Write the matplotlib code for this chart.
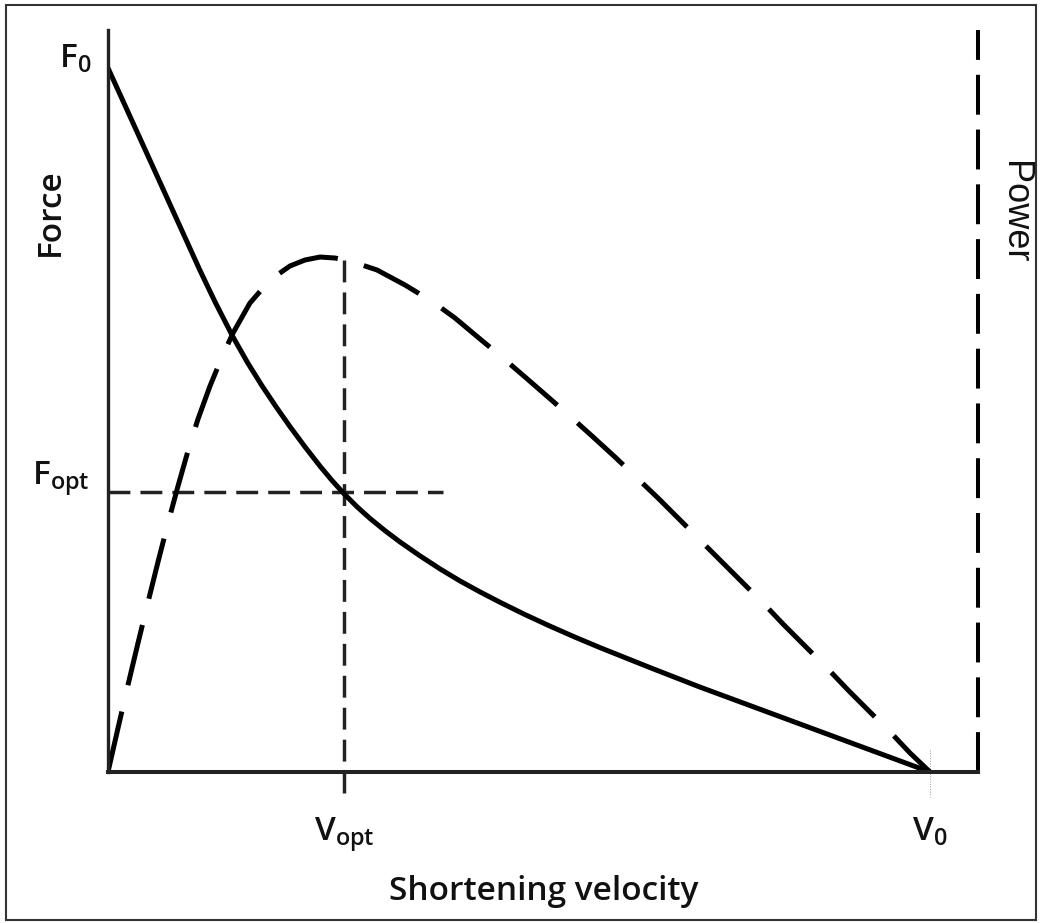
"""
Force-velocity and power-velocity curves of muscle
"""
import matplotlib

matplotlib.use("Agg")
import matplotlib.pyplot as plt
from matplotlib.patches import Rectangle

plt.rcParams["mathtext.default"] = "regular"

# Force-velocity curve (V0 = 1, F0 = 1)
force_v = [0.0, 0.0511, 0.1119, 0.1302, 0.1521, 0.1703, 0.1873, 0.2044,
           0.2214, 0.2397, 0.2579, 0.2725, 0.2871, 0.3029, 0.3187, 0.3370,
           0.3552, 0.3796, 0.4039, 0.4282, 0.4526, 0.4769, 0.5073, 0.5377,
           0.5681, 0.5985, 0.6594, 0.7202, 1.0]
force_f = [1.0, 0.8688, 0.7125, 0.6678, 0.6179, 0.5805, 0.5487, 0.5189,
           0.4906, 0.4618, 0.4345, 0.4141, 0.3953, 0.3768, 0.3602, 0.3428,
           0.3268, 0.3070, 0.2885, 0.2714, 0.2558, 0.2411, 0.2236, 0.2072,
           0.1916, 0.1767, 0.1483, 0.1206, 0.0]

# Power-velocity curve (same scale as force)
power_v = [0.0, 0.0122, 0.0243, 0.0365, 0.0487, 0.0608, 0.0730, 0.0852,
           0.0973, 0.1095, 0.1241, 0.1387, 0.1521, 0.1727, 0.1971, 0.2214,
           0.2397, 0.2579, 0.2762, 0.2981, 0.3273, 0.3613, 0.3954, 0.4221,
           0.4526, 0.4805, 0.5073, 0.5353, 0.5645, 0.5888, 0.6168, 0.6448,
           0.6691, 0.6959, 0.7226, 0.7445, 0.7713, 0.7993, 0.8212, 0.8479,
           0.8759, 0.9002, 0.9270, 0.9550, 0.9757, 1.0]
power_p = [0.0, 0.0625, 0.1236, 0.1832, 0.2415, 0.2983, 0.3537, 0.4063,
           0.4560, 0.5014, 0.5483, 0.5895, 0.6236, 0.6662, 0.6989, 0.7188,
           0.7273, 0.7315, 0.7301, 0.7244, 0.7131, 0.6918, 0.6676, 0.6449,
           0.6151, 0.5881, 0.5611, 0.5327, 0.5028, 0.4773, 0.4474, 0.4162,
           0.3892, 0.3580, 0.3267, 0.3011, 0.2699, 0.2372, 0.2102, 0.1790,
           0.1463, 0.1165, 0.0852, 0.0526, 0.0270, 0.0]

F0 = 1.0
V0 = 1.0
F_OPT = 0.398
V_OPT = 0.287
P_MAX = 0.727

X_MAX = 1.0584
Y_MAX = 1.054

LABEL_FONT = dict(family="Open Sans", weight="semibold", size=24, color="#111111")

fig = plt.figure(figsize=(10.42, 9.23), dpi=100)
ax = fig.add_axes([108 / 1042, 151 / 923, 870 / 1042, 742 / 923])
ax.set_xlim(0, X_MAX)
ax.set_ylim(0, Y_MAX)

# reference lines at the optimum
ax.plot([0, 0.408], [F_OPT, F_OPT], color="#222222", lw=2.5,
        dashes=(6.3, 2.9))
ax.plot([V_OPT, V_OPT], [P_MAX, -0.036], color="#222222", lw=2.5,
        dashes=(6.3, 2.9), clip_on=False)
ax.plot([V0, V0], [0.031, -0.036], color="#999999", lw=0.7,
        linestyle=":", clip_on=False)

# curves
ax.plot(force_v, force_f, color="black", lw=3.6, solid_joinstyle="round",
        solid_capstyle="round")
ax.plot(power_v, power_p, color="black", lw=3.6, dashes=(12.4, 5.4))

# power axis drawn as a dashed line on the right
ax.plot([X_MAX, X_MAX], [0, Y_MAX], color="black", lw=2.9,
        dashes=(9.9, 3.7), clip_on=False)

for side in ["top", "right"]:
    ax.spines[side].set_visible(False)
ax.spines["left"].set_linewidth(2.4)
ax.spines["left"].set_color("#222222")
ax.spines["bottom"].set_linewidth(2.9)
ax.spines["bottom"].set_color("#222222")
ax.set_xticks([])
ax.set_yticks([])

# labels
ax.text(-0.02, F0, r"F$_{0}$", ha="right", va="baseline", **LABEL_FONT)
ax.text(-0.022, F_OPT + 0.01, r"F$_{opt}$", ha="right", va="baseline",
        **LABEL_FONT)
ax.text(V_OPT, -0.097, r"V$_{opt}$", ha="center", va="baseline",
        **LABEL_FONT)
ax.text(V0, -0.097, r"V$_{0}$", ha="center", va="baseline", **LABEL_FONT)

fig.text(544 / 1042, 23 / 923, "Shortening velocity", ha="center",
         va="baseline", **LABEL_FONT)
fig.text(50 / 1042, 1 - 212 / 923, "Force", rotation=90, ha="center",
         va="center", **LABEL_FONT)
fig.text(1014 / 1042, 1 - 212 / 923, "Power", rotation=-90, ha="center",
         va="center", family="Liberation Sans", size=26, color="#111111")

# frame around the whole figure
fig.patches.append(Rectangle((6 / 1042, 3 / 923), 1030 / 1042, 915 / 923,
                             transform=fig.transFigure, fill=False,
                             lw=1.5, edgecolor="#333333"))

fig.savefig("out.png", dpi=100)
